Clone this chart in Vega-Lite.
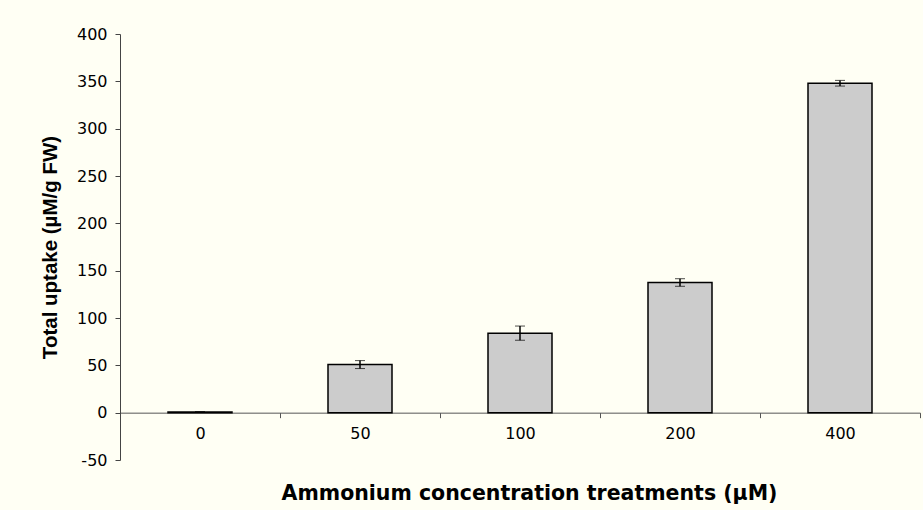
{
  "$schema": "https://vega.github.io/schema/vega-lite/v6.json",
  "width": 800,
  "height": 426,
  "autosize": {"type": "none"},
  "padding": {"left": 120, "top": 34, "right": 3, "bottom": 50},
  "background": "#fffff4",
  "config": {"view": {"stroke": null}},
  "data": {
    "values": [
      {"treatment": "0", "uptake": 0.8, "err": 0},
      {"treatment": "50", "uptake": 50.8, "err": 4.2},
      {"treatment": "100", "uptake": 84, "err": 7.5},
      {"treatment": "200", "uptake": 137.5, "err": 4},
      {"treatment": "400", "uptake": 348, "err": 3}
    ]
  },
  "encoding": {
    "x": {
      "field": "treatment",
      "type": "ordinal",
      "sort": null,
      "scale": {"paddingInner": 0, "paddingOuter": 0},
      "axis": {
        "title": "Ammonium concentration treatments (µM)",
        "titleFont": "DejaVu Sans",
        "titleFontWeight": "bold",
        "titleFontSize": 20.5,
        "titleColor": "#000",
        "titlePadding": 42,
        "titleX": 409,
        "labelFont": "DejaVu Sans",
        "labelFontSize": 16,
        "labelColor": "#000",
        "labelAngle": 0,
        "labelPadding": 8,
        "tickBand": "extent",
        "tickSize": 5,
        "tickColor": "#555",
        "domainColor": "#555",
        "offset": -47.33,
        "grid": false
      }
    }
  },
  "layer": [
    {
      "mark": {"type": "bar", "width": {"band": 0.4}, "fill": "#cccccc", "stroke": "#000", "strokeWidth": 1.5},
      "encoding": {
        "y": {
          "field": "uptake",
          "type": "quantitative",
          "title": "Total uptake (µM/g FW)",
          "scale": {"domain": [-50, 400], "nice": false, "zero": false},
          "axis": {
            "titleFont": "Liberation Sans",
            "titleFontWeight": "bold",
            "titleFontSize": 20.5,
            "titleColor": "#000",
            "titlePadding": 16,
            "labelFont": "DejaVu Sans",
            "labelFontSize": 16,
            "labelColor": "#000",
            "labelPadding": 8,
            "labelExpr": "'' + datum.value",
            "values": [-50, 0, 50, 100, 150, 200, 250, 300, 350, 400],
            "tickSize": 5,
            "tickColor": "#444",
            "domainColor": "#444",
            "grid": false
          }
        }
      }
    },
    {
      "mark": {"type": "errorbar", "ticks": {"size": 10, "color": "#000", "strokeWidth": 1.5}, "rule": {"color": "#000", "strokeWidth": 1.5}},
      "encoding": {
        "y": {"field": "uptake", "type": "quantitative", "title": "Total uptake (µM/g FW)"},
        "yError": {"field": "err"}
      }
    }
  ]
}
